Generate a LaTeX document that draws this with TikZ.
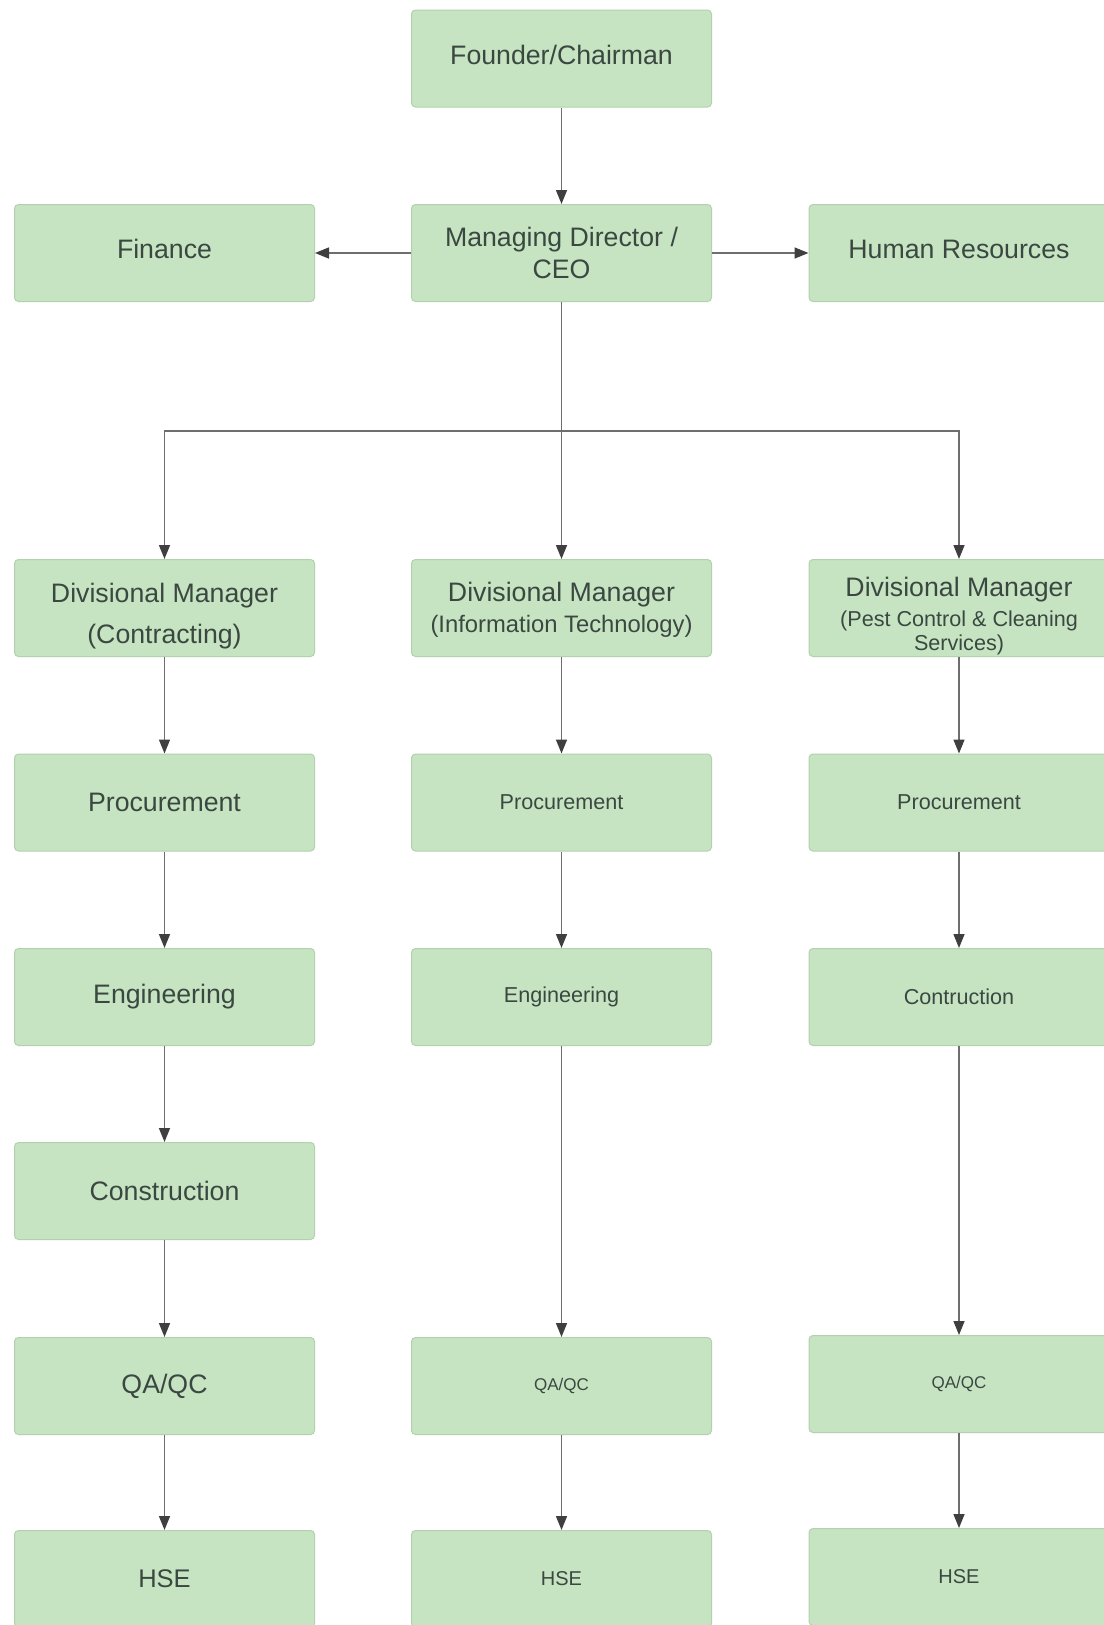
\documentclass[tikz,border=0pt]{standalone}
\usepackage{fontspec}
\setmainfont{Liberation Sans}
\usetikzlibrary{arrows.meta}
\definecolor{boxfill}{HTML}{C6E4C1}
\definecolor{boxdraw}{HTML}{B2D2AD}
\definecolor{txt}{HTML}{3B4842}
\definecolor{linegray}{HTML}{6E6E6E}
\definecolor{tipgray}{HTML}{3F3F3F}
\newcommand{\fsz}[1]{\fontsize{#1}{#1}\selectfont}
\tikzset{
  orgbox/.style={draw=boxdraw, fill=boxfill, line width=1pt, rounded corners=4pt,
    minimum width=300pt, minimum height=97pt, inner sep=0pt, align=center,
    text=txt, font=\fsz{26.7}},
  smallbox/.style={orgbox, font=\fsz{21.6}},
  lbl/.style={inner sep=0pt, align=center, text=txt, font=\fsz{26.7}},
  arr/.style={draw=linegray, line width=1.5pt,
    -{Triangle[length=14pt,width=11pt,color=tipgray]}},
  ln/.style={draw=linegray, line width=1.5pt}
}
\begin{document}
\begin{tikzpicture}[x=1pt,y=-1pt]
\useasboundingbox (0,0) rectangle (1103,1625);
\fill[white] (0,0) rectangle (1103,1625);
% top
\node[orgbox] (fc) at (561.5,58.5) {};
\node[lbl] (fcT) at ([yshift=4pt]fc.center) {Founder/Chairman};
\node[orgbox] (md) at (561.5,253) {Managing Director /\\[6pt]CEO};
\node[orgbox] (fin) at (164.5,253) {};
\node[lbl] (finT) at ([yshift=4pt]fin.center) {Finance};
\node[orgbox] (hr) at (959,253) {};
\node[lbl] (hrT) at ([yshift=4pt]hr.center) {Human Resources};
% divisional managers
\node[orgbox] (dma) at (164.5,608) {};
\node[lbl] (dmaT) at ([yshift=-8pt]dma.center) {Divisional Manager\\[15pt](Contracting)};
\node[orgbox] (dmb) at (561.5,608) {};
\node[lbl] (dmbT) at ([yshift=-2pt]dmb.center) {Divisional Manager\\[4pt]{\fsz{23.8}(Information Technology)}};
\node[orgbox] (dmc) at (959,608) {};
\node[lbl] (dmcT) at ([yshift=-8pt]dmc.center) {Divisional Manager\\[3pt]{\fsz{21.6}(Pest Control \& Cleaning}\\[-3pt]{\fsz{21.6}Services)}};
% column A
\node[orgbox] (pa) at (164.5,802.5) {Procurement};
\node[orgbox] (ea) at (164.5,997) {Engineering};
\node[orgbox] (ca) at (164.5,1191) {Construction};
\node[orgbox] (qa) at (164.5,1386) {QA/QC};
\node[orgbox, font=\fsz{25.5}] (ha) at (164.5,1579) {HSE};
% column B
\node[smallbox] (pb) at (561.5,802.5) {Procurement};
\node[smallbox] (eb) at (561.5,997) {Engineering};
\node[smallbox, font=\fsz{17}] (qb) at (561.5,1386) {QA/QC};
\node[smallbox, font=\fsz{20}] (hb) at (561.5,1579) {HSE};
% column C
\node[smallbox] (pc) at (959,802.5) {Procurement};
\node[smallbox] (cc) at (959,997) {Contruction};
\node[smallbox, font=\fsz{17}] (qc) at (959,1384) {QA/QC};
\node[smallbox, font=\fsz{20}] (hc) at (959,1577) {HSE};
% connectors
\coordinate (bus) at (561.5,431);
\draw[arr] (fc) -- (md);
\draw[arr] (md) -- (fin);
\draw[arr] (md) -- (hr);
\draw[ln] (md) -- (bus);
\draw[arr] (bus) -| (dma);
\draw[arr] (bus) -- (dmb);
\draw[arr] (bus) -| (dmc);
\draw[arr] (dma) -- (pa);
\draw[arr] (pa) -- (ea);
\draw[arr] (ea) -- (ca);
\draw[arr] (ca) -- (qa);
\draw[arr] (qa) -- (ha);
\draw[arr] (dmb) -- (pb);
\draw[arr] (pb) -- (eb);
\draw[arr] (eb) -- (qb);
\draw[arr] (qb) -- (hb);
\draw[arr] (dmc) -- (pc);
\draw[arr] (pc) -- (cc);
\draw[arr] (cc) -- (qc);
\draw[arr] (qc) -- (hc);
\end{tikzpicture}
\end{document}
